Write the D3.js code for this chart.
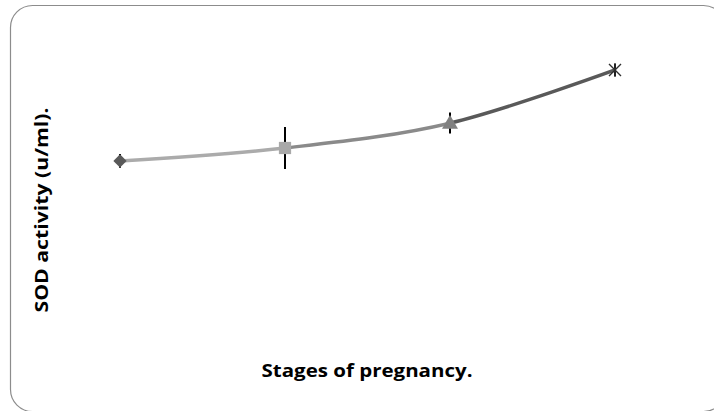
<!DOCTYPE html>
<html>
<head>
<meta charset="utf-8">
<script src="https://cdn.jsdelivr.net/npm/d3@7"></script>
<style>
  html, body { margin: 0; padding: 0; background: #fff; }
</style>
</head>
<body>
<div class="chart"></div>
<script>
'use strict';

// Data (no value axis is shown, units are arbitrary)
const stages = ['Stage 1', 'Stage 2', 'Stage 3', 'Stage 4'];
const sod = [5.97, 6.40, 7.23, 9.00];
const sodErr = [0.23, 0.70, 0.35, 0.20];
const segColors = ['#ababab', '#8a8a8a', '#595959'];
const markerColors = ['#595959', '#a9a9a9', '#808080', '#303030'];
const markerTypes = ['diamond', 'square', 'triangle', 'star'];

// Initialize
const w = 714;
const h = 411;

const svg = d3.select('.chart')
              .append('svg')
              .attr('width', w)
              .attr('height', h)
              .style('display', 'block');

// Chart frame
svg.append('rect')
  .attr('x', 10.5)
  .attr('y', 5.5)
  .attr('width', 715)
  .attr('height', 406)
  .attr('rx', 22)
  .attr('ry', 22)
  .attr('fill', '#fff')
  .attr('stroke', '#8c8c8c')
  .attr('stroke-width', 1.2);

// Scales
const xScale = d3.scalePoint()
                .domain(stages)
                .range([37.5, 697.5])
                .padding(0.5);

const yScale = d3.scaleLinear()
                .domain([0, 10])
                .range([340, 40]);

const pts = stages.map((s, i) => [xScale(s), yScale(sod[i])]);

// Smoothed line, each segment its own colour
const line = d3.line().curve(d3.curveCardinal.tension(0));

const defs = svg.append('defs');
segColors.forEach((c, i) => {
  defs.append('clipPath')
    .attr('id', 'seg' + i)
    .append('rect')
    .attr('x', pts[i][0])
    .attr('y', 0)
    .attr('width', pts[i + 1][0] - pts[i][0])
    .attr('height', h);

  svg.append('path')
    .attr('d', line(pts))
    .attr('fill', 'none')
    .attr('stroke', c)
    .attr('stroke-width', 3.5)
    .attr('clip-path', `url(#seg${i})`);
});

// Error bars
svg.selectAll('line.err')
  .data(stages)
  .enter()
  .append('line')
  .attr('class', 'err')
  .attr('x1', d => xScale(d))
  .attr('x2', d => xScale(d))
  .attr('y1', (d, i) => yScale(sod[i] + sodErr[i]))
  .attr('y2', (d, i) => yScale(sod[i] - sodErr[i]))
  .attr('stroke', '#000')
  .attr('stroke-width', 2);

// Markers
stages.forEach((s, i) => {
  const t = markerTypes[i];
  const g = svg.append('g')
    .attr('transform', `translate(${xScale(s)}, ${yScale(sod[i])})`);
  if (t === 'star') {
    const r = 6;
    g.append('path')
      .attr('d', `M${-r},${-r}L${r},${r}M${-r},${r}L${r},${-r}M0,${-r - 1}L0,${r + 1}`)
      .attr('stroke', markerColors[i])
      .attr('stroke-width', 1.4)
      .attr('fill', 'none');
  } else if (t === 'diamond') {
    g.append('path')
      .attr('d', d3.symbol().type(d3.symbolSquare).size(88)())
      .attr('transform', 'rotate(45)')
      .attr('fill', markerColors[i]);
  } else if (t === 'square') {
    g.append('path')
      .attr('d', d3.symbol().type(d3.symbolSquare).size(150)())
      .attr('fill', markerColors[i]);
  } else {
    g.append('path')
      .attr('d', d3.symbol().type(d3.symbolTriangle).size(110)())
      .attr('transform', 'translate(0,1)')
      .attr('fill', markerColors[i]);
  }
});

// Axis titles
svg.append('text')
  .attr('x', 367)
  .attr('y', 377)
  .attr('text-anchor', 'middle')
  .attr('textLength', 211)
  .attr('lengthAdjust', 'spacingAndGlyphs')
  .style('font-family', '"Open Sans", sans-serif')
  .style('font-weight', 'bold')
  .style('font-size', '18.5px')
  .attr('fill', '#000')
  .text('Stages of pregnancy.');

svg.append('text')
  .attr('transform', 'translate(48, 210) rotate(-90)')
  .attr('text-anchor', 'middle')
  .attr('textLength', 205)
  .attr('lengthAdjust', 'spacingAndGlyphs')
  .style('font-family', '"Open Sans", sans-serif')
  .style('font-weight', 'bold')
  .style('font-size', '18.5px')
  .attr('fill', '#000')
  .text('SOD activity (u/ml).');
</script>
</body>
</html>
